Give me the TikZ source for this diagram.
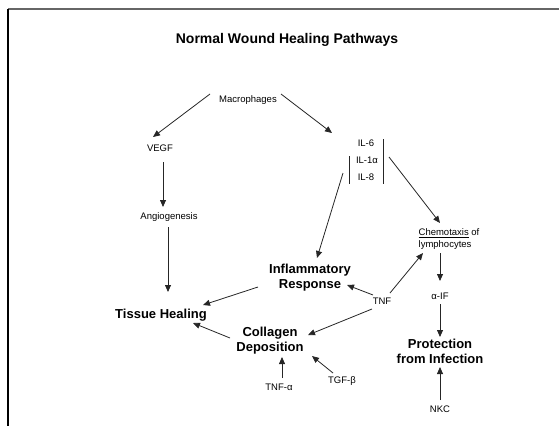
\documentclass[tikz,border=0pt]{standalone}
\usepackage{fontspec}
\setmainfont{Liberation Sans}
\usetikzlibrary{arrows.meta,calc}
\begin{document}
\begin{tikzpicture}[x=1pt,y=-1pt,
  lbl/.style={font=\fontsize{9.5}{12}\selectfont, inner sep=1pt},
  big/.style={font=\bfseries\fontsize{13}{15}\selectfont, align=center, inner sep=1pt},
  arr/.style={draw=black!85, line width=0.8pt, -{Triangle[length=7pt,width=6pt]}},
  bar/.style={draw=black!85, line width=0.8pt}]
\useasboundingbox (0,0) rectangle (559,426);
\draw[black!60, line width=1.5pt] (8,9) -- (559,9);
\draw[black, line width=1.5pt] (8,9) -- (8,426);
\node[font=\bfseries\fontsize{14}{16}\selectfont] (title) at (287,40) {Normal Wound Healing Pathways};
\node[lbl] (mac) at (248,100) {Macrophages};
\node[lbl] (vegf) at (160,148) {VEGF};
\node[lbl] (angio) at (169,217) {Angiogenesis};
\node[big] (tissue) at (161,315) {Tissue Healing};
\node[lbl] (il6) at (366,143) {IL-6};
\node[lbl] (il1) at (367,160) {IL-1α};
\node[lbl] (il8) at (366,177) {IL-8};
\node[big] (infl) at (310,278) {Inflammatory\\Response};
\node[lbl, align=left] (chemo) at (449,239) {\underline{Chemotaxis} of\\lymphocytes};
\node[lbl] (aif) at (440,296) {α-IF};
\node[big] (prot) at (440,351) {Protection\\from Infection};
\node[lbl] (nkc) at (440,409) {NKC};
\node[lbl] (tnf) at (382,301) {TNF};
\node[big] (coll) at (270,341) {Collagen\\Deposition};
\node[lbl] (tnfa) at (279,387) {TNF-α};
\node[lbl] (tgfb) at (342,381) {TGF-β};
% bars
\draw[bar] ($(il6)+(17,-4)$) -- ($(il8)+(17,7)$);
\draw[bar] ($(il1)+(-18,-4)$) -- ($(il8)+(-17,7)$);
% arrows
\draw[arr] ($(mac)+(-38,-6)$) -- ($(vegf)+(-7,-11)$);
\draw[arr] ($(mac)+(33,-6)$) -- ($(il6)+(-34,-10)$);
\draw[arr] ($(vegf)+(3,14)$) -- ($(angio)+(-6,-10)$);
\draw[arr] ($(angio)+(-1,10)$) -- ($(tissue)+(7,-23)$);
\draw[arr] ($(infl)+(-52,9)$) -- ($(tissue)+(42,-10)$);
\draw[arr] ($(il8)+(-23,-4)$) -- ($(infl)+(7,-20)$);
\draw[arr] ($(il1)+(22,-3)$) -- ($(chemo)+(-9,-16)$);
\draw[arr] ($(chemo)+(-9,14)$) -- ($(aif)+(0,-15)$);
\draw[arr] ($(aif)+(0,8)$) -- ($(prot)+(0,-14)$);
\draw[arr] ($(nkc)+(0,-9)$) -- ($(prot)+(0,16)$);
\draw[arr] ($(tnf)+(8,-8)$) -- ($(chemo)+(-26,14)$);
\draw[arr] ($(tnf)+(-9,-6)$) -- ($(infl)+(37,7)$);
\draw[arr] ($(tnf)+(-10,8)$) -- ($(coll)+(38,-6)$);
\draw[arr] ($(coll)+(-40,-3)$) -- ($(tissue)+(32,8)$);
\draw[arr] ($(tnfa)+(3,-9)$) -- ($(coll)+(12,16)$);
\draw[arr] ($(tgfb)+(-9,-8)$) -- ($(coll)+(42,15)$);
\end{tikzpicture}
\end{document}
